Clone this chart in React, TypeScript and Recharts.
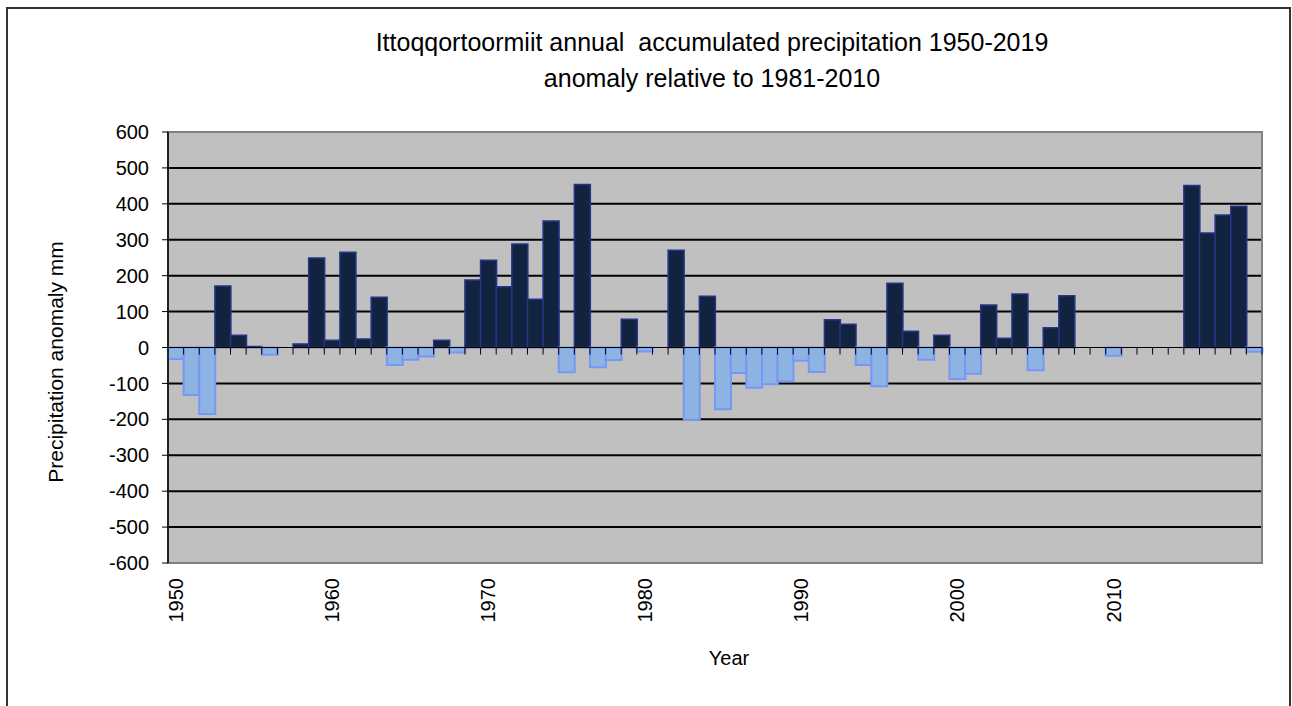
import React from 'react';
import { BarChart, Bar, XAxis, YAxis, CartesianGrid, ReferenceLine, ReferenceArea, Cell } from 'recharts';

const years = [
  '1950','1951','1952','1953','1954','1955','1956','1957','1958','1959',
  '1960','1961','1962','1963','1964','1965','1966','1967','1968','1969',
  '1970','1971','1972','1973','1974','1975','1976','1977','1978','1979',
  '1980','1981','1982','1983','1984','1985','1986','1987','1988','1989',
  '1990','1991','1992','1993','1994','1995','1996','1997','1998','1999',
  '2000','2001','2002','2003','2004','2005','2006','2007','2008','2009',
  '2010','2011','2012','2013','2014','2015','2016','2017','2018','2019',
];

const anomaly: (number | null)[] = [
  -32, -132, -185, 171, 34, 3, -20, null, 10, 249,
  20, 265, 24, 140, -49, -34, -25, 20, -14, 188,
  243, 169, 288, 134, 352, -69, 454, -55, -35, 79,
  -11, null, 271, -201, 143, -172, -71, -112, -102, -94,
  -37, -68, 77, 65, -49, -108, 179, 45, -34, 34,
  -88, -73, 118, 26, 149, -63, 55, 144, null, null,
  -23, null, null, null, null, 451, 319, 369, 393, -12,
];

const yTicks = [-600, -500, -400, -300, -200, -100, 0, 100, 200, 300, 400, 500, 600];
const gridValues = [-500, -400, -300, -200, -100, 100, 200, 300, 400, 500];
const labelYears = ['1950', '1960', '1970', '1980', '1990', '2000', '2010'];

const titleLines = [
  'Ittoqqortoormiit annual  accumulated precipitation 1950-2019',
  'anomaly relative to 1981-2010',
];
const yTitle = 'Precipitation anomaly mm';
const xTitle = 'Year';

const data = years.map((y, i) => ({ year: y, value: anomaly[i] }));

const W = 1292;
const H = 706;
const M = { top: 132, right: 30, bottom: 83, left: 108 };
const Y_AXIS_W = 60;
const X_AXIS_H = 60;
const PLOT_LEFT = M.left + Y_AXIS_W;
const PLOT_RIGHT = W - M.right;
const PLOT_TOP = M.top;
const PLOT_BOTTOM = H - M.bottom - X_AXIS_H;
const ZERO_Y = (PLOT_TOP + PLOT_BOTTOM) / 2;
const BAND = (PLOT_RIGHT - PLOT_LEFT) / years.length;

const FONT = '"Liberation Sans", Arial, Helvetica, sans-serif';

const XTick = (props: any) => {
  const { x, payload } = props;
  const half = BAND / 2;
  const v = String(payload.value);
  return (
    <g>
      <line x1={x + half} x2={x + half} y1={ZERO_Y} y2={ZERO_Y + 7} stroke="#000" strokeWidth={1} />
      {labelYears.includes(v) && (
        <text
          transform={`translate(${x + 7},${PLOT_BOTTOM + 15}) rotate(-90)`}
          textAnchor="end"
          fontSize={20}
          fill="#000"
          fontFamily={FONT}
        >
          {v}
        </text>
      )}
    </g>
  );
};

export default function App() {
  return (
    <div
      style={{
        position: 'absolute',
        left: 0,
        top: 0,
        width: W,
        height: H,
        overflow: 'hidden',
        background: '#fff',
        fontFamily: FONT,
      }}
    >
      <div
        style={{
          position: 'absolute',
          left: 6,
          top: 7,
          width: 1285,
          height: 760,
          boxSizing: 'border-box',
          border: '2px solid #333',
        }}
      />
      <div style={{ position: 'absolute', left: 0, top: 0 }}>
        <BarChart width={W} height={H} data={data} margin={M} barCategoryGap={0} barGap={0}>
          <CartesianGrid
            horizontal={true}
            vertical={false}
            horizontalValues={gridValues}
            stroke="#000"
            strokeWidth={2}
            fill="#C0C0C0"
            fillOpacity={1}
          />
          <XAxis
            dataKey="year"
            interval={0}
            tick={<XTick />}
            tickLine={false}
            axisLine={{ stroke: '#808080', strokeWidth: 2 }}
            height={X_AXIS_H}
            label={{
              content: () => (
                <text x={729} y={665} textAnchor="middle" fontSize={20} fill="#000" fontFamily={FONT}>
                  {xTitle}
                </text>
              ),
            }}
          />
          <YAxis
            type="number"
            domain={[-600, 600]}
            ticks={yTicks}
            interval={0}
            allowDataOverflow
            width={Y_AXIS_W}
            tickSize={6}
            tickMargin={13}
            axisLine={{ stroke: '#000', strokeWidth: 1.5 }}
            tickLine={{ stroke: '#000' }}
            tick={{ fontSize: 20, fill: '#000', fontFamily: FONT }}
            label={{
              content: () => (
                <text
                  transform={`translate(63,362) rotate(-90)`}
                  textAnchor="middle"
                  fontSize={21}
                  fill="#000"
                  fontFamily={FONT}
                >
                  {yTitle}
                </text>
              ),
            }}
          />
          <ReferenceArea y1={-600} y2={600} fill="none" stroke="#808080" strokeWidth={2} />
          <Bar dataKey="value" isAnimationActive={false} strokeWidth={2}>
            {data.map((d, i) => (
              <Cell
                key={i}
                fill={(d.value ?? 0) >= 0 ? '#12233F' : '#8DB3E2'}
                stroke={(d.value ?? 0) >= 0 ? '#27348A' : '#7797F5'}
                strokeWidth={(d.value ?? 0) >= 0 ? 1.5 : 2}
              />
            ))}
          </Bar>
          <ReferenceLine y={0} stroke="#000" strokeWidth={1} />
        </BarChart>
      </div>
      <svg width={W} height={110} style={{ position: 'absolute', left: 0, top: 0, pointerEvents: 'none' }}>
        <text x={712} y={51} textAnchor="middle" fontSize={25} fill="#000" fontFamily={FONT} style={{ whiteSpace: 'pre' }}>
          {titleLines[0]}
        </text>
        <text x={712} y={87} textAnchor="middle" fontSize={25} fill="#000" fontFamily={FONT} style={{ whiteSpace: 'pre' }}>
          {titleLines[1]}
        </text>
      </svg>
    </div>
  );
}
